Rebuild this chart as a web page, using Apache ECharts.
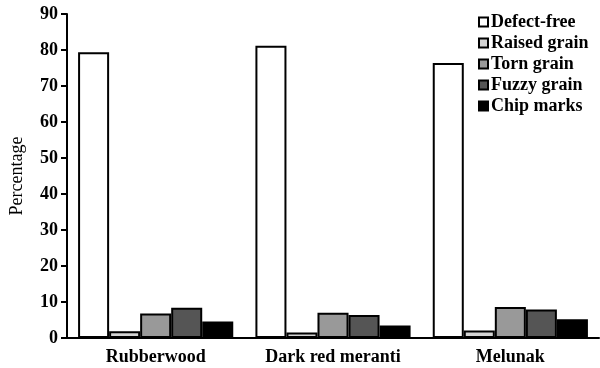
<!DOCTYPE html>
<html><head><meta charset="utf-8">
<script src="https://cdn.jsdelivr.net/npm/echarts@6/dist/echarts.min.js"></script>
<style>html,body{margin:0;padding:0;background:#fff}#c{width:600px;height:368px}</style>
</head><body><div id="c"></div>
<script>
var categories = ['Rubberwood', 'Dark red meranti', 'Melunak'];
var seriesNames = ['Defect-free', 'Raised grain', 'Torn grain', 'Fuzzy grain', 'Chip marks'];
var defectFree = [79.4, 81.2, 76.4];
var raisedGrain = [1.9, 1.5, 2.1];
var tornGrain = [6.8, 7.0, 8.6];
var fuzzyGrain = [8.4, 6.4, 7.9];
var chipMarks = [4.6, 3.5, 5.2];
var yTicks = [0, 10, 20, 30, 40, 50, 60, 70, 80, 90];
var colors = ['#ffffff', '#d4d4d4', '#999999', '#555555', '#000000'];
var values = [defectFree, raisedGrain, tornGrain, fuzzyGrain, chipMarks];
var font = 'Liberation Serif';
var chart = echarts.init(document.getElementById('c'));
chart.setOption({
  animation: false,
  grid: {left: 67, right: 1, top: 14, bottom: 30},
  legend: {
    orient: 'vertical', left: 473, top: 8, itemWidth: 9, itemHeight: 9, itemGap: 3,
    icon: 'rect',
    textStyle: {fontFamily: font, fontSize: 18, fontWeight: 'bold', color: '#000', padding: [0, 0, 0, -2]},
    data: seriesNames
  },
  xAxis: {
    type: 'category', data: categories,
    axisLine: {lineStyle: {color: '#000', width: 2}},
    axisTick: {show: false},
    axisLabel: {fontFamily: font, fontSize: 18, fontWeight: 'bold', color: '#000', margin: 10}
  },
  yAxis: {
    type: 'value', min: yTicks[0], max: yTicks[yTicks.length - 1], interval: 10,
    name: 'Percentage', nameLocation: 'middle', nameGap: 41,
    nameTextStyle: {fontFamily: font, fontSize: 18, color: '#000'},
    axisLine: {show: true, lineStyle: {color: '#000', width: 2}},
    axisTick: {show: true, length: 6, lineStyle: {color: '#000', width: 2}},
    axisLabel: {fontFamily: font, fontSize: 18, fontWeight: 'bold', color: '#000', margin: 9},
    splitLine: {show: false}
  },
  series: seriesNames.map(function (n, i) {
    return {
      name: n, type: 'bar', data: values[i], barGap: '0%', barCategoryGap: '12.5%',
      itemStyle: {color: colors[i], borderColor: '#000', borderWidth: 2}
    };
  })
});
</script></body></html>
